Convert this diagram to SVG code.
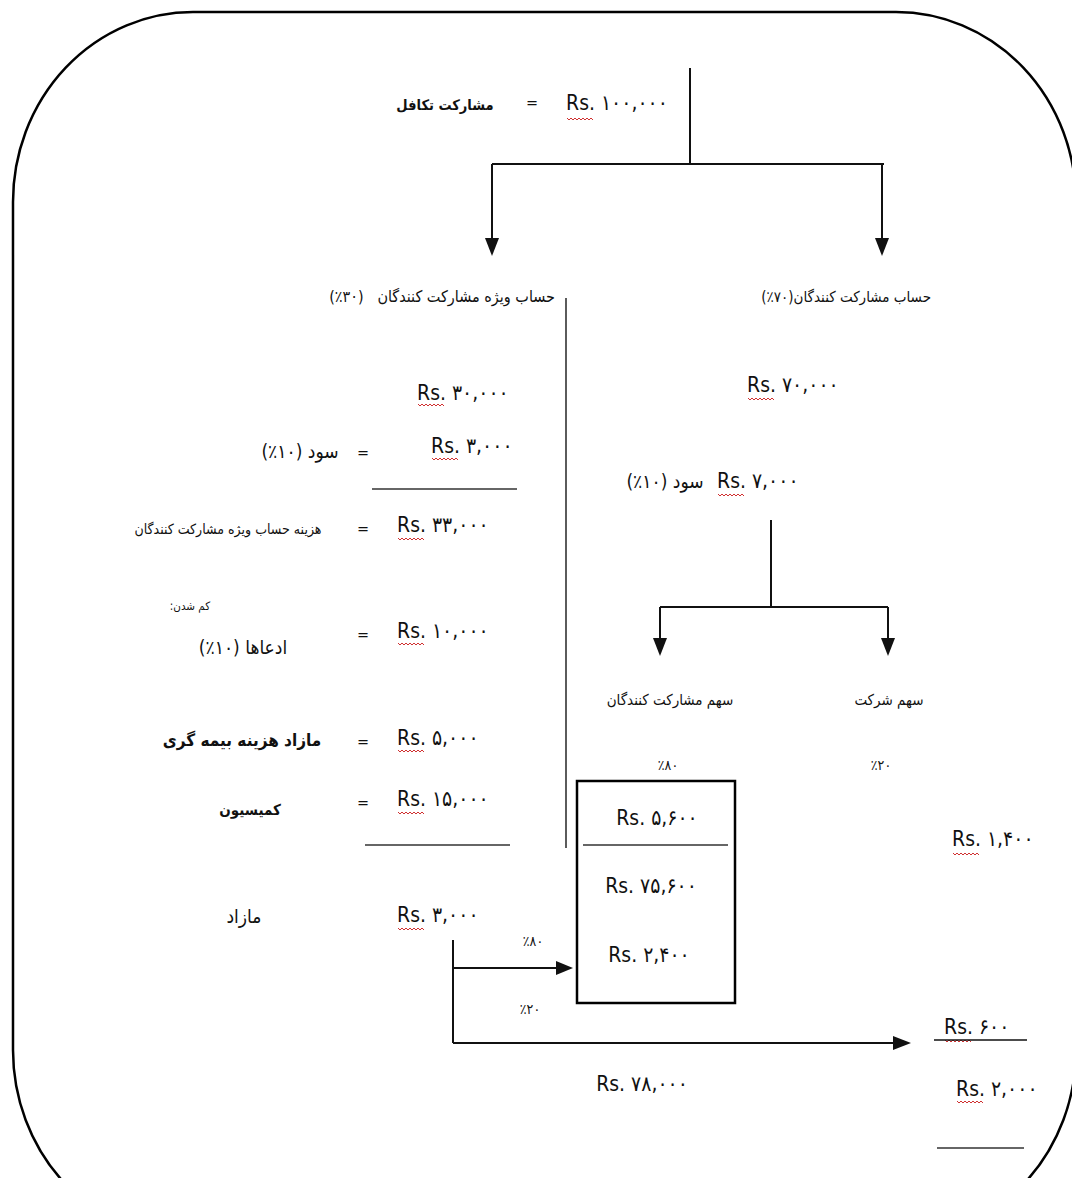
<svg xmlns="http://www.w3.org/2000/svg" width="1072" height="1178" viewBox="0 0 1072 1178">
  <style>
    text { font-family: "DejaVu Sans Condensed", "DejaVu Sans", sans-serif; fill: #111; }
    .amt { font-size: 21px; }
    .fa { font-size: 15px; }
    .fam { font-size: 19px; }
    .fab { font-size: 17px; font-weight: bold; }
    .eq { font-size: 16px; }
    .pct { font-size: 14px; }
    .small { font-size: 14px; }
    .wire { stroke: #111; stroke-width: 2; fill: none; }
    .rule { stroke: #333; stroke-width: 1.6; fill: none; }
    .squig { stroke: #d03030; stroke-width: 1; fill: none; }
  </style>
  <defs>
    <path id="wave" d="M0,0 l2,2 l2,-2 l2,2 l2,-2 l2,2 l2,-2 l2,2 l2,-2 l2,2 l2,-2 l2,2 l2,-2 l2,2" class="squig"/>
  </defs>

  <rect width="1072" height="1178" fill="#fff"/>
  <!-- outer rounded frame -->
  <rect x="13" y="12" width="1063" height="1228" rx="180" ry="190" fill="none" stroke="#000" stroke-width="2.5"/>

  <!-- connectors -->
  <g id="connectors">
    <path class="wire" d="M690,68 V164"/>
    <path class="wire" d="M492,164 H884"/>
    <path class="wire" d="M492,164 V240"/>
    <polygon points="485,238 499,238 492,256" fill="#111"/>
    <path class="wire" d="M882,164 V240"/>
    <polygon points="875,238 889,238 882,256" fill="#111"/>
    <path class="rule" d="M566,298 V848"/>
    <path class="wire" d="M771,520 V607 M660,607 H888 M660,607 V640 M888,607 V640"/>
    <polygon points="653,638 667,638 660,656" fill="#111"/>
    <polygon points="881,638 895,638 888,656" fill="#111"/>
    <path class="wire" d="M453,940 V1043 M453,968 H556 M453,1043 H895"/>
    <polygon points="556,961 556,975 573,968" fill="#111"/>
    <polygon points="893,1036 893,1050 911,1043" fill="#111"/>
  </g>

  <!-- top: participation amount -->
  <g id="node-total">
    <text class="fab" x="445" y="110" text-anchor="middle" style="font-size:14.5px">مشارکت تکافل</text>
    <text class="eq" x="532" y="108" text-anchor="middle">=</text>
    <text class="amt" x="566" y="110">Rs. ۱۰۰,۰۰۰</text>
    <use href="#wave" x="567" y="118"/>
  </g>

  <!-- special participants account (30%) -->
  <g id="node-special-account">
    <text class="fa" x="555" y="302" text-anchor="end" style="font-size:16px; white-space:pre">(٪۳۰)   حساب ویژه مشارکت کنندگان</text>
    <text class="amt" x="417" y="400">Rs. ۳۰,۰۰۰</text>
    <use href="#wave" x="418" y="404"/>
    <text class="fam" x="300" y="458" text-anchor="middle">(٪۱۰) سود</text>
    <text class="eq" x="363" y="458" text-anchor="middle">=</text>
    <text class="amt" x="431" y="453">Rs. ۳,۰۰۰</text>
    <use href="#wave" x="432" y="458"/>
    <path class="rule" d="M372,489 H517"/>
    <text class="small" x="228" y="534" text-anchor="middle">هزینه حساب ویژه مشارکت کنندگان</text>
    <text class="eq" x="363" y="534" text-anchor="middle">=</text>
    <text class="amt" x="397" y="532">Rs. ۳۳,۰۰۰</text>
    <use href="#wave" x="398" y="538"/>
    <text class="small" x="190" y="610" text-anchor="middle" style="font-size:11.5px">کم شدن:&#x200F;</text>
    <text class="fam" x="243" y="654" text-anchor="middle">(٪۱۰) ادعاها</text>
    <text class="eq" x="363" y="640" text-anchor="middle">=</text>
    <text class="amt" x="397" y="638">Rs. ۱۰,۰۰۰</text>
    <use href="#wave" x="398" y="643"/>
    <text class="fab" x="242" y="746" text-anchor="middle">مازاد هزینه بیمه گری</text>
    <text class="eq" x="363" y="747" text-anchor="middle">=</text>
    <text class="amt" x="397" y="745">Rs. ۵,۰۰۰</text>
    <use href="#wave" x="398" y="750"/>
    <text class="fab" x="250" y="815" text-anchor="middle" style="font-size:15px">کمیسیون</text>
    <text class="eq" x="363" y="808" text-anchor="middle">=</text>
    <text class="amt" x="397" y="806">Rs. ۱۵,۰۰۰</text>
    <use href="#wave" x="398" y="812"/>
    <path class="rule" d="M365,845 H510"/>
    <text class="fam" x="244" y="923" text-anchor="middle">مازاد</text>
    <text class="amt" x="397" y="922">Rs. ۳,۰۰۰</text>
    <use href="#wave" x="398" y="928"/>
    <text class="pct" x="533" y="946" text-anchor="middle">٪۸۰</text>
    <text class="pct" x="530" y="1014" text-anchor="middle">٪۲۰</text>
  </g>

  <!-- participants account (70%) -->
  <g id="node-participants-account">
    <text class="fa" x="931" y="302" text-anchor="end">(٪۷۰)حساب مشارکت کنندگان</text>
    <text class="amt" x="747" y="392">Rs. ۷۰,۰۰۰</text>
    <use href="#wave" x="748" y="398"/>
    <text class="fam" x="665" y="488" text-anchor="middle">(٪۱۰) سود</text>
    <text class="amt" x="717" y="488">Rs. ۷,۰۰۰</text>
    <use href="#wave" x="718" y="494"/>
  </g>

  <!-- participants' share -->
  <g id="node-participants-share">
    <text class="fa" x="670" y="705" text-anchor="middle">سهم مشارکت کنندگان</text>
    <text class="pct" x="668" y="770" text-anchor="middle">٪۸۰</text>
    <rect x="577" y="781" width="158" height="222" fill="none" stroke="#000" stroke-width="2.5"/>
    <text class="amt" x="657" y="825" text-anchor="middle">Rs. ۵,۶۰۰</text>
    <path class="rule" d="M583,845 H728"/>
    <text class="amt" x="651" y="893" text-anchor="middle">Rs. ۷۵,۶۰۰</text>
    <text class="amt" x="649" y="962" text-anchor="middle">Rs. ۲,۴۰۰</text>
  </g>

  <!-- company share -->
  <g id="node-company-share">
    <text class="fa" x="889" y="705" text-anchor="middle">سهم شرکت</text>
    <text class="pct" x="881" y="770" text-anchor="middle">٪۲۰</text>
    <text class="amt" x="952" y="846">Rs. ۱,۴۰۰</text>
    <use href="#wave" x="953" y="853"/>
  </g>

  <!-- totals -->
  <g id="node-totals">
    <text class="amt" x="944" y="1034">Rs. ۶۰۰</text>
    <use href="#wave" x="945" y="1040"/>
    <path class="wire" d="M934,1040 H1027" style="stroke-width:1.6"/>
    <text class="amt" x="956" y="1096">Rs. ۲,۰۰۰</text>
    <use href="#wave" x="957" y="1101"/>
    <path class="rule" d="M937,1148 H1024"/>
    <text class="amt" x="642" y="1091" text-anchor="middle">Rs. ۷۸,۰۰۰</text>
  </g>
</svg>
